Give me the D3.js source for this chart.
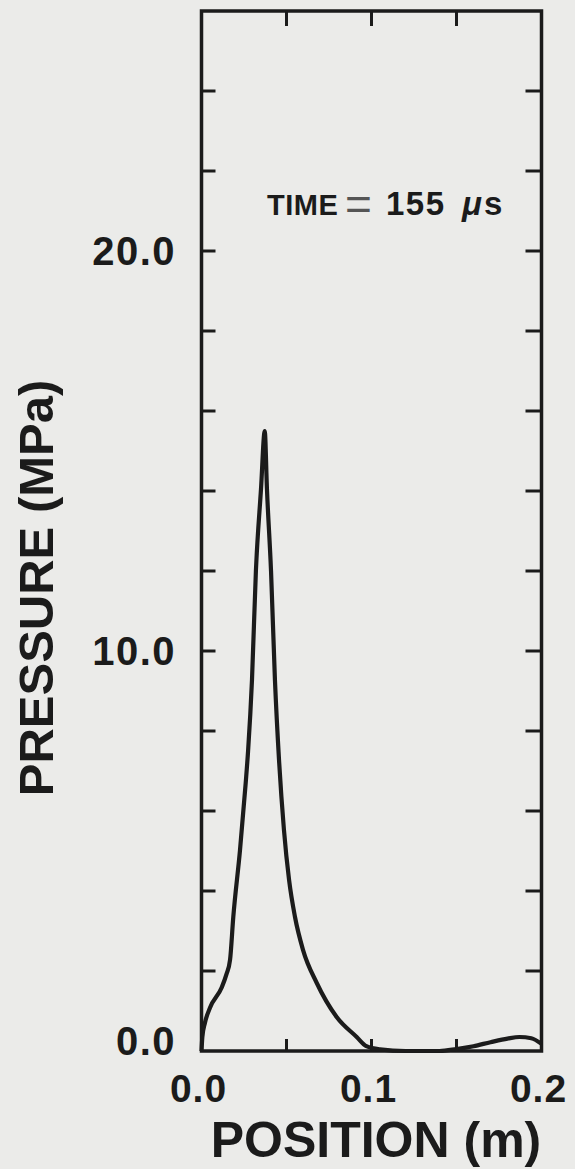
<!DOCTYPE html>
<html>
<head>
<meta charset="utf-8">
<script src="https://cdn.jsdelivr.net/npm/d3@7"></script>
<style>
  html, body { margin: 0; padding: 0; background: #ebebe9; }
  svg { display: block; }
  text { font-family: "Liberation Sans", Arial, sans-serif; font-weight: bold; fill: #1b1b1b; }
</style>
</head>
<body>
<svg id="chart" width="575" height="1169"></svg>
<script>
// pressure profile
const position = [0, 0.0005, 0.002, 0.005, 0.0118, 0.0147, 0.0168, 0.0187, 0.0226, 0.026, 0.0274, 0.0297, 0.032, 0.035, 0.0372,
  0.0385, 0.0409, 0.0432, 0.0456, 0.0485, 0.0515, 0.055, 0.0597, 0.0678, 0.0795, 0.0913, 0.097, 0.105, 0.12, 0.14,
  0.15, 0.16, 0.17, 0.18, 0.187, 0.194, 0.2]
const pressure = [0, 0.35, 0.7, 1.08, 1.58, 1.92, 2.28, 3.35, 5.0, 6.7, 7.5, 9.28, 12.0, 14.05, 15.5,
  14.05, 12.0, 9.28, 7.28, 5.53, 4.28, 3.35, 2.53, 1.7, 0.85, 0.35, 0.12, 0.04, 0.0, 0.0,
  0.05, 0.12, 0.22, 0.31, 0.35, 0.32, 0.18]

const xLabels = [0, 0.1, 0.2]
const xMinor = [0.05, 0.1, 0.15]
const yLabels = [0, 10, 20]
const yMinor = d3.range(2, 26, 2)

const svg = d3.select('#chart')

const x = d3.scaleLinear().domain([0, 0.2]).range([201.5, 541.5])
const y = d3.scaleLinear().domain([0, 26]).range([1051, 11])

const ink = '#1b1b1b'

// inward ticks on all four sides
const g = svg.append('g').attr('stroke', ink).attr('stroke-width', 3)
g.selectAll('.tl').data(yMinor).join('line')
  .attr('x1', x(0)).attr('x2', x(0) + 14)
  .attr('y1', d => y(d)).attr('y2', d => y(d))
g.selectAll('.tr').data(yMinor).join('line')
  .attr('x1', x(0.2)).attr('x2', x(0.2) - 16)
  .attr('y1', d => y(d)).attr('y2', d => y(d))
g.selectAll('.tb').data(xMinor).join('line')
  .attr('x1', d => x(d)).attr('x2', d => x(d))
  .attr('y1', y(0)).attr('y2', y(0) - 12)
g.selectAll('.tt').data(xMinor).join('line')
  .attr('x1', d => x(d)).attr('x2', d => x(d))
  .attr('y1', y(26)).attr('y2', y(26) + 15)

// frame
svg.append('rect')
  .attr('x', x(0)).attr('y', y(26))
  .attr('width', x(0.2) - x(0)).attr('height', y(0) - y(26))
  .attr('fill', 'none').attr('stroke', ink).attr('stroke-width', 3.5)

// curve
const line = d3.line()
  .x((d, i) => x(position[i]))
  .y(d => y(d))
  .curve(d3.curveMonotoneX)

svg.append('path')
  .datum(pressure)
  .attr('d', line)
  .attr('fill', 'none')
  .attr('stroke', ink)
  .attr('stroke-width', 4.2)
  .attr('stroke-linejoin', 'round')

// tick labels
svg.selectAll('.yl').data(yLabels).join('text')
  .attr('x', 176)
  .attr('y', d => y(d) + (d === 0 ? 4 : 14))
  .attr('text-anchor', 'end')
  .attr('font-size', 40)
  .attr('letter-spacing', 1.5)
  .text(d => d.toFixed(1))

svg.selectAll('.xl').data(xLabels).join('text')
  .attr('x', d => x(d) - 3)
  .attr('y', 1102)
  .attr('text-anchor', 'middle')
  .attr('font-size', 39)
  .attr('letter-spacing', 1)
  .text(d => d.toFixed(1))

// axis titles
svg.append('text')
  .attr('x', 376).attr('y', 1157)
  .attr('text-anchor', 'middle')
  .attr('font-size', 50)
  .text('POSITION (m)')

svg.append('text')
  .attr('transform', 'translate(53,588) rotate(-90)')
  .attr('text-anchor', 'middle')
  .attr('font-size', 49)
  .text('PRESSURE (MPa)')

// annotation
const note = svg.append('text').attr('y', 215)
note.append('tspan').attr('x', 267).attr('font-size', 29).attr('letter-spacing', 0.5).text('TIME')
note.append('tspan').attr('x', 345).attr('y', 220).attr('font-size', 46).attr('font-weight', 'normal')
  .attr('fill', '#555').text('=')
note.append('tspan').attr('x', 386).attr('y', 215).attr('font-size', 33).attr('letter-spacing', 1.5).text('155')
note.append('tspan').attr('x', 462).attr('font-size', 33).attr('font-style', 'italic').text('μ')
note.append('tspan').attr('font-size', 33).attr('dx', 2).text('s')
</script>
</body>
</html>
